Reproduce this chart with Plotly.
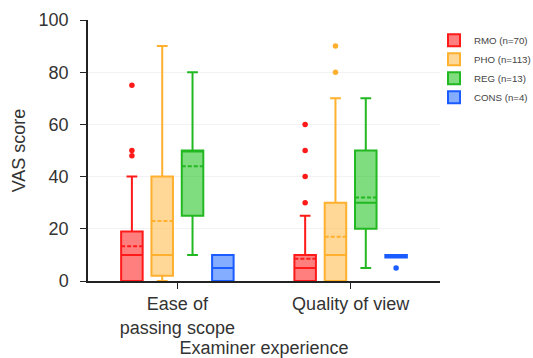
import plotly.graph_objects as go

categories = ["Ease of<br>passing scope", "Quality of view"]
groups = ["RMO (n=70)", "PHO (n=113)", "REG (n=13)", "CONS (n=4)"]

# per group: values for [Ease, Quality]
q1 = {"RMO (n=70)": [0, 0], "PHO (n=113)": [2, 0], "REG (n=13)": [25, 20], "CONS (n=4)": [0, 9]}
median = {"RMO (n=70)": [10, 5], "PHO (n=113)": [10, 10], "REG (n=13)": [50, 30], "CONS (n=4)": [5, 10]}
q3 = {"RMO (n=70)": [19, 10], "PHO (n=113)": [40, 30], "REG (n=13)": [50, 50], "CONS (n=4)": [10, 10]}
lowerfence = {"RMO (n=70)": [0, 0], "PHO (n=113)": [0, 0], "REG (n=13)": [10, 5], "CONS (n=4)": [0, 9]}
upperfence = {"RMO (n=70)": [40, 25], "PHO (n=113)": [90, 70], "REG (n=13)": [80, 70], "CONS (n=4)": [10, 10]}
mean = {"RMO (n=70)": [13.3, 8.5], "PHO (n=113)": [23, 17], "REG (n=13)": [44, 32], "CONS (n=4)": [5, 9.5]}
outliers = {"RMO (n=70)": [[75, 50, 48], [30, 40, 50, 60]],
            "PHO (n=113)": [[], [80, 90]],
            "REG (n=13)": [[], []],
            "CONS (n=4)": [[], [5]]}

line_colors = {"RMO (n=70)": "#FF1A1A", "PHO (n=113)": "#FFB02E", "REG (n=13)": "#22B822", "CONS (n=4)": "#1A5CFF"}
fill_colors = {"RMO (n=70)": "rgba(255,0,0,0.5)", "PHO (n=113)": "rgba(255,176,46,0.5)",
               "REG (n=13)": "rgba(0,185,0,0.5)", "CONS (n=4)": "rgba(10,90,255,0.5)"}

fig = go.Figure()
for g in groups:
    # boxes with no outliers get their median as the only sample (inside the fences, so not drawn)
    samples = [pts if pts else [median[g][i]] for i, pts in enumerate(outliers[g])]
    fig.add_trace(go.Box(
        name=g,
        x=categories,
        y=samples,
        q1=q1[g], median=median[g], q3=q3[g],
        lowerfence=lowerfence[g], upperfence=upperfence[g], mean=mean[g],
        boxmean=True,
        boxpoints="outliers",
        jitter=0, pointpos=0,
        whiskerwidth=0.5,
        line=dict(color=line_colors[g], width=2),
        fillcolor=fill_colors[g],
        marker=dict(color=line_colors[g], size=5.5, line=dict(width=0)),
    ))

font = "Liberation Sans, Arial, sans-serif"
fig.update_layout(
    width=533, height=358,
    margin=dict(l=88, r=93, t=20, b=77, autoexpand=False),
    plot_bgcolor="white", paper_bgcolor="white",
    boxmode="group", boxgap=0.3, boxgroupgap=0.29,
    font=dict(family=font, size=18, color="#333"),
    showlegend=True,
    legend=dict(x=0.983, y=0.978, xanchor="left", yanchor="top",
                font=dict(size=9.7, color="#444"), tracegroupgap=0,
                itemwidth=30, bgcolor="rgba(0,0,0,0)"),
    xaxis=dict(title=dict(text="Examiner experience", standoff=2, font=dict(size=18)),
               tickfont=dict(size=18),
               showline=True, linecolor="#222", linewidth=1.5,
               ticks="outside", ticklen=6, tickcolor="#222",
               showgrid=False, zeroline=False),
    yaxis=dict(title=dict(text="VAS score", standoff=8, font=dict(size=18)), range=[0, 100],
               tickvals=[0, 20, 40, 60, 80, 100], tickfont=dict(size=18),
               ticklabelstandoff=8,
               showline=True, linecolor="#222", linewidth=1.5,
               ticks="outside", ticklen=6, tickcolor="#222",
               showgrid=True, gridcolor="#f2f2f2", gridwidth=1, zeroline=False),
)
fig.write_html("out.html", config={"displayModeBar": False},
               post_script="document.body.style.margin='0';document.body.style.padding='0';")
